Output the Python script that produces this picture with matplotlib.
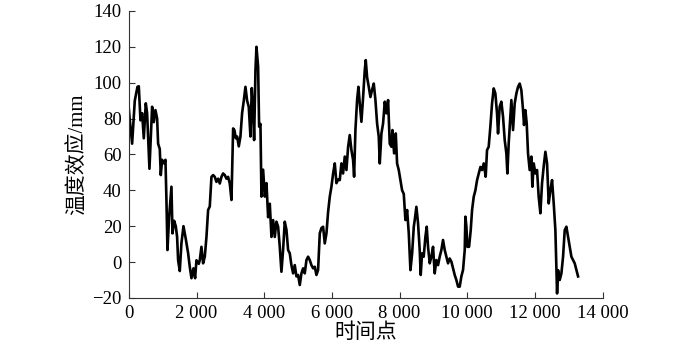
import matplotlib
matplotlib.use("Agg")
import matplotlib.pyplot as plt

# values (time point, temperature effect in mm)
t = [0, 30, 98, 177, 256, 295, 345, 394, 443, 502, 541, 610, 689, 738, 787, 837,
     866, 915, 945, 984, 1043, 1083, 1112, 1142, 1191, 1260, 1290, 1339, 1388, 1427,
     1457, 1506, 1555, 1615, 1684, 1752, 1801, 1851, 1910, 1959, 1998, 2067,
     2097, 2146, 2195, 2245, 2294, 2343, 2392, 2442, 2491, 2540, 2589, 2639, 2688,
     2737, 2786, 2836, 2885, 2934, 2983, 3033, 3082, 3121, 3160, 3200, 3249, 3298,
     3347, 3397, 3446, 3495, 3544, 3594, 3633, 3672, 3702, 3742, 3771, 3820, 3850,
     3889, 3919, 3968, 4018, 4067, 4116, 4165, 4215, 4264,
     4312, 4361, 4411, 4460, 4509, 4558, 4607, 4657, 4706, 4755, 4804, 4854, 4903,
     4952, 5001, 5051, 5100, 5149, 5198, 5248, 5297, 5346, 5395, 5445, 5494, 5543,
     5592, 5642, 5691, 5740, 5789, 5839, 5888, 5937, 5986, 6036, 6085, 6134, 6183,
     6232, 6281, 6330, 6380, 6429, 6478, 6527, 6577, 6626, 6656, 6695, 6744, 6784,
     6823, 6872, 6922, 6971, 7000, 7040, 7089, 7138, 7187, 7237, 7286, 7335, 7384,
     7414, 7463, 7512, 7562, 7611, 7660, 7709, 7759, 7788, 7838, 7887, 7926, 7975,
     8025, 8074, 8123, 8172, 8222, 8271, 8320, 8370, 8419,
     8447, 8496, 8545, 8594, 8624, 8663, 8712, 8762, 8801, 8840, 8890, 8939, 8988,
     9037, 9087, 9136, 9185, 9234, 9283, 9333, 9382, 9431, 9480, 9530, 9579, 9628,
     9677, 9727, 9776, 9825, 9874, 9924, 9944, 9973, 10003, 10052, 10101, 10141,
     10190, 10239, 10289, 10338, 10387, 10436, 10486,
     10543, 10583, 10632, 10681, 10731, 10780, 10829, 10878, 10908, 10957, 11006,
     11056, 11105, 11154, 11184, 11223, 11272, 11302, 11351, 11400, 11450, 11499,
     11548, 11597, 11647, 11676, 11716, 11755, 11794, 11843, 11893, 11922, 11962,
     12011, 12060, 12109, 12159, 12208, 12257, 12307, 12356, 12405, 12454, 12504,
     12553, 12602, 12652, 12681, 12730, 12780, 12829, 12878, 12927, 12977, 13026,
     13075, 13124, 13173, 13223, 13272]

effect = [85.7, 79, 66, 90, 97.7, 98, 79, 83, 69, 88.5, 83, 52, 86.6, 78, 84.7, 80,
          66, 63, 48.5, 57, 55, 57, 34.6, 6.7, 25, 42, 16, 23, 20, 14,
          1, -5, 10.5, 20, 12.8, 5, -2.6, -9, -3.5, -9, 1, -1,
          1.1, 8.5, -0.7, 3, 14, 29, 31, 47.5, 48.5, 47.5, 44.7, 46.5, 43.8,
          47.5, 49.4, 48.5, 46.5, 47.5, 43.8, 34.6, 74.5, 73.5, 69, 70, 64.5, 70,
          83, 90, 97.7, 90, 86.5, 70, 97, 85, 68, 107, 120, 109, 75.5,
          77, 36.5, 51.5, 36.5, 44, 25, 32.5, 14, 23.4,
          14, 22.5, 19.7, 8.5, -5.4, 6.7, 22.5, 18, 6.7, 4.9, -1.7, -6.3, -1.7,
          -8, -7.2, -12.8, -6.3, -3.5, -6.3, 1.1, 3, 1.1, -1.7, -3.5, -2.6, -7.2,
          -4.4, 16, 19, 19.7, 10.4, 16, 28, 36.4, 42, 49.4, 55, 44, 46,
          45.7, 55, 49.4, 58.8, 51.3, 64, 70.8, 62.4, 56.9, 47.6, 73.6, 90.3, 97.7,
          88.4, 78.2, 92, 107, 112.6, 103, 97.7, 92, 96, 99.5, 90.3, 77.3, 69.9,
          55, 71.7, 77.3, 89.4, 82.9, 90.3, 66, 64.3, 73.6, 60.6, 71.7, 55, 51.3,
          45.7, 40, 38, 23.4, 29, 16, -4.5, 4.8, 19.7,
          23.4, 30.8, 21.6, 6.7, -7.2, 4.8, 3, 14, 19.7, 8.5, -0.7, 3, 8.5,
          -6.3, 1.1, -1.7, 3, 6.7, 12.3, 6.7, 3, -0.7, 2, 0.2, -3.5, -7.2,
          -10, -13.7, -13.7, -8, -4.4, 6.7, 25.3, 19.7, 8.5, 8.5, 17.8, 29,
          36.4, 40, 45.7, 49.4, 53, 51.3, 55,
          47.6, 62.4, 64.3, 75.4, 88.4, 96.8, 94, 82.9, 71.7, 86.6, 89.4,
          81, 68, 60.6, 49.4, 66.2, 81, 90.3, 73.6, 88.4, 94, 97.7,
          99.5, 95.8, 84.7, 76.4, 84.7, 77.3, 60.6, 51.3, 58.8, 42, 55,
          49.4, 51.3, 36.4, 27.2, 44, 53.3, 61.5, 55, 32.7, 40, 45.7,
          32.7, 17.8, -17.5, -4.5, -10, -6.3, 3, 17.8, 19.7, 14, 8.5,
          3, 1.1, -0.7, -4.5, -8]

x_ticks = [0, 2000, 4000, 6000, 8000, 10000, 12000, 14000]
x_tick_labels = ["0", "2 000", "4 000", "6 000", "8 000", "10 000", "12 000", "14 000"]
y_ticks = [-20, 0, 20, 40, 60, 80, 100, 120, 140]
y_tick_labels = ["\u221220", "0", "20", "40", "60", "80", "100", "120", "140"]

fonts = ["Liberation Serif", "Noto Sans CJK SC"]

fig = plt.figure(figsize=(7, 3.53), dpi=100)
ax = fig.add_axes([0.184, 0.156, 0.677, 0.813])

ax.plot(t, effect, color="black", linewidth=1.9)

ax.set_xlim(0, 14000)
ax.set_ylim(-20, 140)
ax.set_xticks(x_ticks)
ax.set_xticklabels(x_tick_labels, family=fonts, fontsize=13.5)
ax.set_yticks(y_ticks)
ax.set_yticklabels(y_tick_labels, family=fonts, fontsize=13.5)
ax.tick_params(direction="in", length=4, width=0.8, color="#333333", pad=5)

ax.spines["top"].set_visible(False)
ax.spines["right"].set_visible(False)
ax.spines["left"].set_color("#333333")
ax.spines["bottom"].set_color("#333333")

ax.set_xlabel("时间点", family=fonts, fontsize=15, labelpad=1)
ax.set_ylabel("温度效应/mm", family=fonts, fontsize=15, labelpad=3)

fig.savefig("out.png", dpi=100)
